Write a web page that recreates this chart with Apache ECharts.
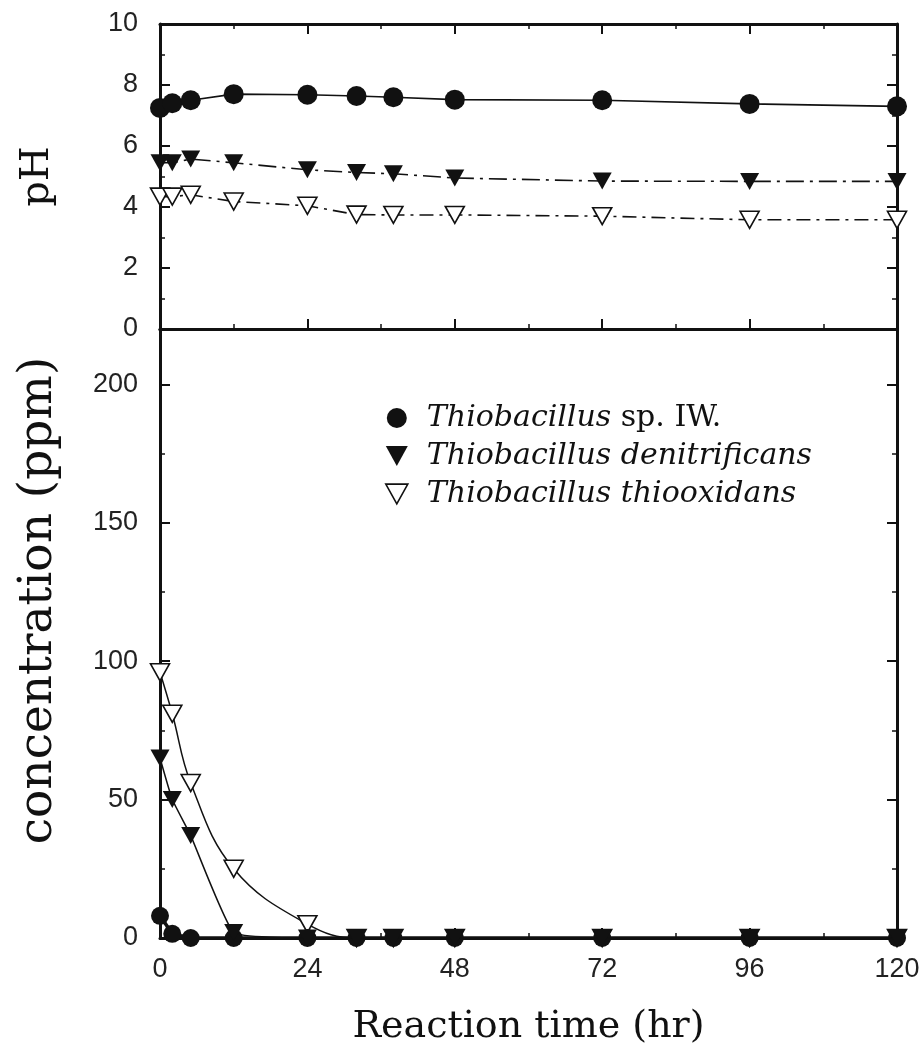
<!DOCTYPE html>
<html>
<head>
<meta charset="utf-8">
<script src="https://cdn.jsdelivr.net/npm/echarts@6/dist/echarts.min.js"></script>
<style>html,body{margin:0;background:#fff}#chart{width:924px;height:1054px}</style>
</head>
<body>
<div id="chart"></div>
<script>
// sampling times (hr)
var hours = [0, 2, 5, 12, 24, 32, 38, 48, 72, 96, 120];
var xTicks = [0, 24, 48, 72, 96, 120];

var names = ['Thiobacillus sp. IW.', 'Thiobacillus denitrificans', 'Thiobacillus thiooxidans'];

// pH panel
var phSpIW = [7.25, 7.4, 7.5, 7.7, 7.68, 7.64, 7.6, 7.52, 7.5, 7.38, 7.3];
var phDenit = [5.45, 5.45, 5.57, 5.45, 5.22, 5.13, 5.09, 4.95, 4.85, 4.84, 4.84];
var phThio = [4.34, 4.34, 4.4, 4.18, 4.04, 3.75, 3.74, 3.74, 3.7, 3.58, 3.58];

// concentration panel (ppm)
var concSpIW = [8, 1.5, 0, 0, 0, 0, 0, 0, 0, 0, 0];
var concDenit = [65, 50, 37, 2, 0, 0, 0, 0, 0, 0, 0];
var concThio = [96, 81, 56, 25, 5, 0, 0, 0, 0, 0, 0];

function pairs(ys) {
    return hours.map(function (h, i) { return [h, ys[i]]; });
}

var chart = echarts.init(document.getElementById('chart'));

var black = '#111';
var tri = 'path://M0,0L10,0L5,9Z';
var tickFont = {fontFamily: 'Liberation Sans', fontSize: 27, color: '#222'};

function frameX(grid, pos, showLabel) {
    return {
        type: 'value', gridIndex: grid, position: pos, min: 0, max: 120, interval: 24,
        axisLine: {show: true, onZero: false, lineStyle: {color: black, width: 3}},
        axisTick: {show: true, inside: true, length: 10, lineStyle: {color: black, width: 2}},
        minorTick: {show: true, splitNumber: 2, length: 5, lineStyle: {color: black, width: 1.5}},
        axisLabel: showLabel ? Object.assign({show: true, margin: 18}, tickFont) : {show: false},
        splitLine: {show: false}
    };
}
function frameY(grid, pos, max, step, showLabel) {
    return {
        type: 'value', gridIndex: grid, position: pos, min: 0, max: max, interval: step,
        axisLine: {show: true, onZero: false, lineStyle: {color: black, width: 3}},
        axisTick: {show: true, inside: true, length: 10, lineStyle: {color: black, width: 2}},
        minorTick: {show: true, splitNumber: 2, length: 5, lineStyle: {color: black, width: 1.5}},
        axisLabel: showLabel ? Object.assign({show: true, margin: 22, showMaxLabel: max % step === 0}, tickFont) : {show: false},
        splitLine: {show: false}
    };
}

var xAxes = [frameX(0, 'bottom', false), frameX(0, 'top', false), frameX(1, 'bottom', true), frameX(1, 'top', false)];
xAxes[3].axisTick.show = false;
xAxes[3].minorTick.show = false;
xAxes[2].name = 'Reaction time (hr)';
xAxes[2].nameLocation = 'middle';
xAxes[2].nameGap = 70;
xAxes[2].nameTextStyle = {fontFamily: 'DejaVu Serif', fontSize: 38, color: black};

var yAxes = [frameY(0, 'left', 10, 2, true), frameY(0, 'right', 10, 2, false),
             frameY(1, 'left', 220, 50, true), frameY(1, 'right', 220, 50, false)];
yAxes[0].name = 'pH';
yAxes[0].nameLocation = 'middle';
yAxes[0].nameGap = 102;
yAxes[0].nameTextStyle = {fontFamily: 'DejaVu Serif', fontSize: 40, color: black};
yAxes[2].name = 'concentration (ppm)';
yAxes[2].nameLocation = 'middle';
yAxes[2].nameGap = 98;
yAxes[2].nameTextStyle = {fontFamily: 'DejaVu Serif', fontSize: 47, color: black, padding: [0, 0, 0, 66]};

function line(name, data, xi, yi, opt) {
    var s = {
        name: name, type: 'line', xAxisIndex: xi, yAxisIndex: yi, data: pairs(data),
        clip: false, animation: false,
        lineStyle: {color: black, width: 1.5},
        itemStyle: {color: black}
    };
    return Object.assign(s, opt);
}
var circ = {symbol: 'circle', symbolSize: 20, z: 3};
var fill = {symbol: tri, symbolSize: [19, 17], z: 4};
var open = {symbol: tri, symbolSize: [19, 17], z: 2,
            itemStyle: {color: '#fff', borderColor: black, borderWidth: 1.6}};

var series = [
    line(names[0], phSpIW, 0, 0, Object.assign({}, circ, {lineStyle: {color: black, width: 1.6}})),
    line(names[1], phDenit, 0, 0, Object.assign({}, fill, {lineStyle: {color: black, width: 1.6, type: [18, 6, 3, 6]}})),
    line(names[2], phThio, 0, 0, Object.assign({}, open, {lineStyle: {color: black, width: 1.6, type: [14, 6, 3, 6]}})),
    line(names[0], concSpIW, 2, 2, Object.assign({}, circ, {symbolSize: 18, lineStyle: {color: black, width: 3.5}})),
    line(names[1], concDenit, 2, 2, Object.assign({}, fill, {smooth: 0.12})),
    line(names[2], concThio, 2, 2, Object.assign({}, open, {smooth: 0.4}))
];

option = {
    backgroundColor: '#fff',
    grid: [
        {left: 160, right: 27, top: 24, height: 305},
        {left: 160, right: 27, top: 329, height: 609}
    ],
    xAxis: xAxes,
    yAxis: yAxes,
    legend: {
        left: 380, top: 398, orient: 'vertical',
        itemWidth: 22, itemHeight: 20, itemGap: 8,
        selectedMode: false,
        data: [
            {name: names[0], icon: 'circle', itemStyle: {color: black}},
            {name: names[1], icon: tri, itemStyle: {color: black}},
            {name: names[2], icon: tri, itemStyle: {color: '#fff', borderColor: black, borderWidth: 1.6}}
        ],
        formatter: function (n) {
            if (n.indexOf('sp.') > 0) return '{i|Thiobacillus} {n|sp. IW.}';
            return '{i|' + n + '}';
        },
        textStyle: {
            fontFamily: 'DejaVu Serif', fontSize: 30, color: black, padding: [0, 0, 0, 14],
            rich: {
                i: {fontFamily: 'DejaVu Serif', fontStyle: 'italic', fontSize: 30, color: black},
                n: {fontFamily: 'DejaVu Serif', fontSize: 30, color: black}
            }
        }
    },
    series: series
};
chart.setOption(option);
</script>
</body>
</html>
